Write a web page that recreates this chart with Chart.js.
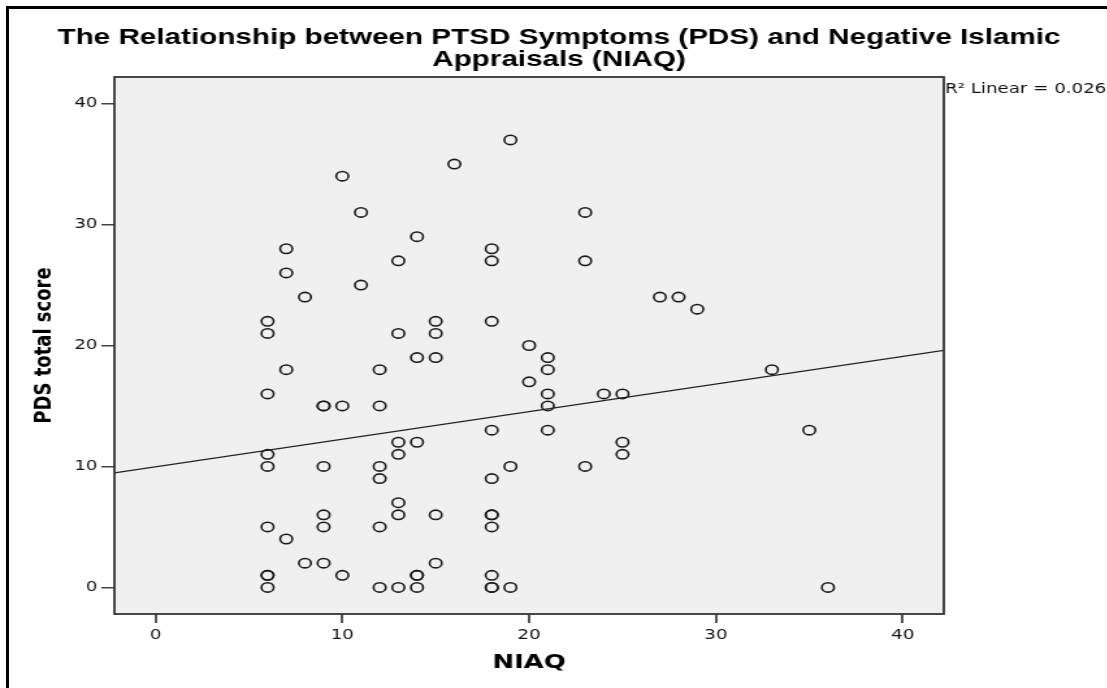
<!DOCTYPE html>
<html>
<head>
<meta charset="utf-8">
<title>PTSD Symptoms vs Negative Islamic Appraisals</title>
<script src="https://cdn.jsdelivr.net/npm/chart.js@4.4.1/dist/chart.umd.min.js"></script>
<style>
  html, body { margin: 0; padding: 0; background: #fff; }
  body { width: 1107px; height: 688px; position: relative; overflow: hidden; }
  /* black frame: only left and top edges are visible in the source */
  #frame {
    position: absolute; left: 6px; top: 6px; right: 0; bottom: 0;
    border-left: 3px solid #000; border-top: 3px solid #000;
  }
  /* the source image is stretched sideways, so the canvas is too */
  #wrap {
    position: absolute; left: 0; top: 0; width: 852px; height: 688px;
    transform: scaleX(1.3); transform-origin: 0 0;
  }
</style>
</head>
<body>
<div id="frame"></div>
<div id="wrap"><canvas id="chart" width="852" height="688"></canvas></div>
<script>
// ===== Data =====
const niaq = [
  19, 16, 10, 11, 23, 14, 7, 18, 7, 13, 18, 23, 11, 8, 27, 28, 29,
  6, 6, 15, 15, 13, 18, 20, 21, 21, 14, 15, 7, 12, 33, 20,
  6, 21, 24, 25, 9, 9, 10, 12, 21, 35, 18, 21, 13, 14, 25,
  6, 13, 25, 6, 9, 12, 19, 23, 12, 18, 13, 9, 13, 15, 18, 18,
  6, 9, 12, 18, 7, 8, 9, 15, 6, 6, 10, 14, 14, 18,
  6, 12, 13, 14, 18, 18, 19, 36,
];
const pds = [
  37, 35, 34, 31, 31, 29, 28, 28, 26, 27, 27, 27, 25, 24, 24, 24, 23,
  22, 21, 22, 21, 21, 22, 20, 19, 18, 19, 19, 18, 18, 18, 17,
  16, 16, 16, 16, 15, 15, 15, 15, 15, 13, 13, 13, 12, 12, 12,
  11, 11, 11, 10, 10, 10, 10, 10, 9, 9, 7, 6, 6, 6, 6, 6,
  5, 5, 5, 5, 4, 2, 2, 2, 1, 1, 1, 1, 1, 1,
  0, 0, 0, 0, 0, 0, 0, 0,
];

// fit line at both edges of the plot
const fitX = [-2.2, 42.2];
const fitY = [9.47, 19.6];

const xTicks = [0, 10, 20, 30, 40];
const yTicks = [0, 10, 20, 30, 40];

const titleLines = [
  "The Relationship between PTSD Symptoms (PDS) and Negative Islamic",
  "Appraisals (NIAQ)",
];
const fitLabel = "R\u00b2 Linear = 0.026";

// ===== Plugins =====
const plotBackground = {
  id: "plotBackground",
  beforeDraw(chart) {
    const { ctx, chartArea: a } = chart;
    ctx.save();
    ctx.fillStyle = "#f0f0f0";
    ctx.fillRect(a.left, a.top, a.right - a.left, a.bottom - a.top);
    ctx.restore();
  },
};

const plotFrame = {
  id: "plotFrame",
  afterDraw(chart) {
    const { ctx, chartArea: a } = chart;
    ctx.save();
    ctx.strokeStyle = "#333";
    ctx.lineWidth = 1.8;
    ctx.strokeRect(a.left, a.top, a.right - a.left, a.bottom - a.top);
    ctx.restore();
  },
};

const chartText = {
  id: "chartText",
  afterDraw(chart) {
    const { ctx, chartArea: a } = chart;
    ctx.save();
    ctx.fillStyle = "#000";
    ctx.textAlign = "center";
    ctx.textBaseline = "alphabetic";
    ctx.font = "bold 22.8px 'Liberation Sans'";
    ctx.fillText(titleLines[0], 430, 44);
    ctx.fillText(titleLines[1], 430, 66);

    ctx.textAlign = "left";
    ctx.font = "14px 'DejaVu Sans'";
    ctx.fillStyle = "#111";
    ctx.fillText(fitLabel, a.right + 1, 93);
    ctx.restore();
  },
};

// ===== Chart =====
const tickFont = { family: "'DejaVu Sans'", size: 14 };
const titleFont = { family: "'DejaVu Sans'", weight: "bold" };

new Chart(document.getElementById("chart"), {
  type: "scatter",
  data: {
    datasets: [
      {
        label: "PDS",
        data: niaq.map((x, i) => ({ x, y: pds[i] })),
        pointStyle: "circle",
        pointRadius: 4.7,
        pointBorderWidth: 1.6,
        pointBorderColor: "#1a1a1a",
        pointBackgroundColor: "rgba(0,0,0,0)",
      },
      {
        label: "Linear fit",
        data: fitX.map((x, i) => ({ x, y: fitY[i] })),
        showLine: true,
        borderColor: "#222",
        borderWidth: 1.2,
        pointRadius: 0,
      },
    ],
  },
  options: {
    responsive: false,
    animation: false,
    layout: { padding: { top: 77, right: 126, left: 0, bottom: 0 } },
    plugins: {
      legend: { display: false },
      tooltip: { enabled: false },
    },
    scales: {
      x: {
        type: "linear",
        min: -2.2,
        max: 42.2,
        afterBuildTicks: (s) => {
          s.ticks = xTicks.map((v) => ({ value: v }));
        },
        afterFit: (s) => {
          s.height = 74;
        },
        ticks: { font: tickFont, color: "#111", padding: 4 },
        grid: {
          drawOnChartArea: false,
          drawTicks: true,
          tickLength: 9,
          color: "#555",
          lineWidth: 2,
        },
        border: { display: false },
        title: {
          display: true,
          text: "NIAQ",
          color: "#000",
          font: { ...titleFont, size: 20 },
          padding: { top: 0, bottom: 13 },
        },
      },
      y: {
        type: "linear",
        min: -2.2,
        max: 42.2,
        afterBuildTicks: (s) => {
          s.ticks = yTicks.map((v) => ({ value: v }));
        },
        afterFit: (s) => {
          s.width = 88;
        },
        ticks: { font: tickFont, color: "#111", padding: 3 },
        grid: {
          drawOnChartArea: false,
          drawTicks: true,
          tickLength: 10,
          color: "#444",
          lineWidth: 1.5,
        },
        border: { display: false },
        title: {
          display: true,
          text: "PDS total score",
          color: "#000",
          font: { ...titleFont, size: 18 },
          padding: { top: 24, bottom: 0 },
        },
      },
    },
  },
  plugins: [plotBackground, plotFrame, chartText],
});
</script>
</body>
</html>
